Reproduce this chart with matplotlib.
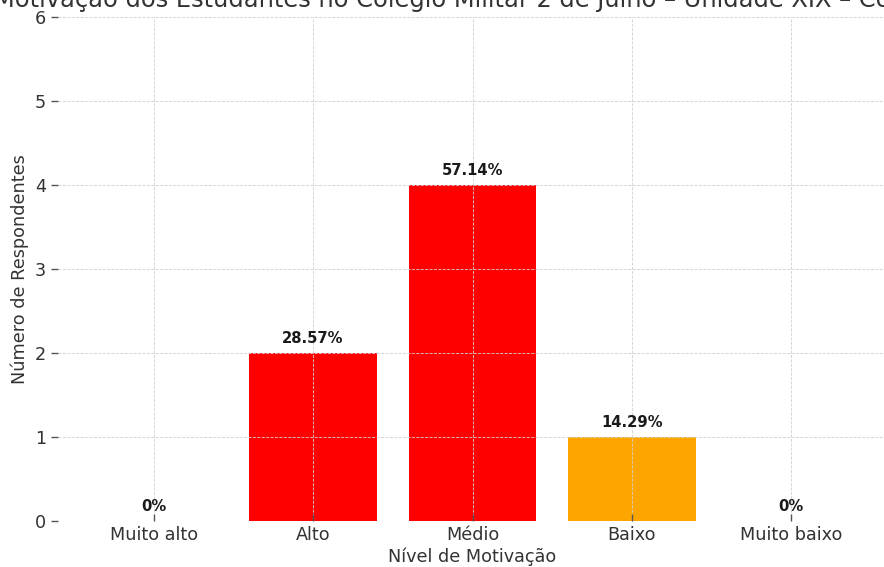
import matplotlib
matplotlib.use("Agg")
import matplotlib.pyplot as plt

# data
niveis = ["Muito alto", "Alto", "Médio", "Baixo", "Muito baixo"]
respondentes = [0, 2, 4, 1, 0]
cores = ["green", "red", "red", "orange", "darkred"]

total = sum(respondentes)
percentuais = [100 * r / total for r in respondentes]
rotulos = [f"{p:.2f}%" if p > 0 else "0%" for p in percentuais]

titulo = "Motivação dos Estudantes no Colégio Militar 2 de Julho – Unidade XIX – Coité"

texto = "#333333"
plt.rcParams["font.family"] = "DejaVu Sans"

fig = plt.figure(figsize=(8.84, 5.67), dpi=100)
# the reference is cropped: the axes run past the right edge
ax = fig.add_axes([58 / 884, 46 / 567, 829 / 884, 504 / 567])

barras = ax.bar(range(len(niveis)), respondentes, width=0.8, color=cores)
ax.bar_label(barras, labels=rotulos, padding=5, fontsize=10.6,
             fontweight="bold", color="#1a1a1a")

ax.set_xlim(-0.6, 4.6)
ax.set_ylim(0, 6)
ax.set_xticks(range(len(niveis)))
ax.set_xticklabels(niveis)

ax.set_axisbelow(False)
ax.grid(True, linestyle="--", color="#d0d0d0", linewidth=0.6)
for s in ax.spines.values():
    s.set_visible(False)
ax.tick_params(axis="both", colors="#555555", labelcolor=texto,
               labelsize=12.7, length=5, width=1)
ax.tick_params(axis="x", direction="in")

ax.set_xlabel("Nível de Motivação", fontsize=12.7, color=texto, labelpad=2.5)
ax.set_ylabel("Número de Respondentes", fontsize=12.7, color=texto, labelpad=4.5)

# title is cut by the top and right edges in the reference
fig.text(-6 / 884, 1 - 7 / 567, titulo, ha="left", va="baseline",
         fontsize=17.4, color=texto)

fig.savefig("out.png", dpi=100)
